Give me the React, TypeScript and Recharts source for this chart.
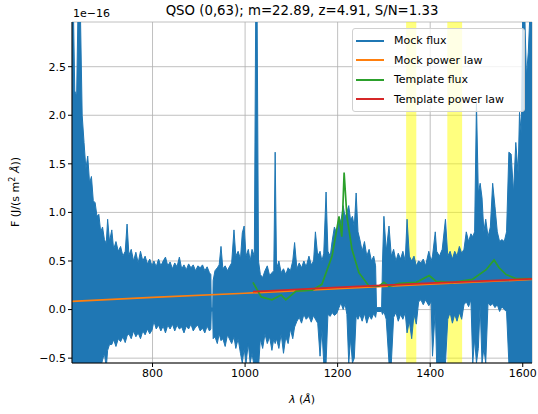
import {
  Area,
  CartesianGrid,
  ComposedChart,
  Line,
  XAxis,
  YAxis,
} from 'recharts'

// mock spectrum envelope (units of 1e-16)
const WAVE = [
  626, 629, 632, 636, 639, 644, 648, 652, 656, 660, 664, 668, 672, 676, 680, 684, 688, 692, 696, 700,
  703, 707, 712, 716, 721, 726, 731, 736, 741, 745, 749, 754, 759, 764, 769, 774, 779, 784, 789, 794,
  799, 803, 808, 813, 818, 823, 828, 833, 838, 843, 848, 853, 858, 863, 868, 873, 878, 883, 888, 893,
  898, 903, 908, 913, 918, 923, 926, 927, 930, 931, 935, 940, 944, 948, 952, 957, 962, 966, 971, 976,
  980, 985, 990, 994, 998, 1002, 1007, 1011, 1015, 1020, 1023, 1026, 1029, 1033, 1038, 1043, 1048, 1053, 1058, 1062,
  1065, 1068, 1073, 1078, 1083, 1088, 1093, 1098, 1103, 1107, 1112, 1117, 1122, 1127, 1132, 1138, 1143, 1148, 1152, 1157,
  1162, 1166, 1170, 1175, 1179, 1184, 1188, 1193, 1198, 1203, 1207, 1212, 1216, 1220, 1224, 1228, 1232, 1236, 1240, 1244,
  1248, 1253, 1258, 1263, 1268, 1273, 1278, 1282, 1284, 1295, 1297, 1300, 1305, 1311, 1316, 1321, 1326, 1331, 1336, 1341,
  1346, 1350, 1355, 1360, 1365, 1370, 1375, 1380, 1385, 1390, 1397, 1402, 1405, 1411, 1414, 1420, 1426, 1433, 1438, 1443,
  1448, 1453, 1458, 1463, 1468, 1473, 1478, 1483, 1488, 1492, 1496, 1500, 1504, 1508, 1512, 1516, 1520, 1525, 1530, 1535,
  1540, 1545, 1550, 1555, 1560, 1565, 1570, 1575, 1580, 1585, 1590, 1593, 1597, 1600, 1604, 1608, 1612, 1616, 1620,
]
const FLUX_HI = [
  3.1, 3.1, 2.25, 2.2, 3.1, 3.1, 2.0, 1.72, 1.45, 1.58, 1.3, 1.37, 1.12, 1.1, 0.96, 0.98, 0.8, 0.85, 0.72, 0.68,
  0.93, 0.7, 0.82, 0.62, 0.7, 0.6, 0.65, 0.55, 0.6, 0.88, 0.56, 0.62, 0.5, 0.59, 0.48, 0.6, 0.5, 0.55, 0.47, 0.52,
  0.45, 0.5, 0.44, 0.52, 0.45, 0.5, 0.54, 0.45, 0.49, 0.42, 0.48, 0.44, 0.54, 0.42, 0.46, 0.41, 0.47, 0.43, 0.46, 0.4,
  0.45, 0.43, 0.46, 0.4, 0.44, 0.38, 0.36, 0.02, 0.02, 0.3, 0.4, 0.43, 0.46, 0.65, 0.42, 0.45, 0.4, 0.44, 0.48, 0.82,
  0.55, 0.6, 0.52, 0.79, 0.86, 0.55, 0.62, 0.5, 0.62, 0.55, 3.1, 3.1, 0.5, 0.36, 0.33, 0.4, 0.45, 0.35, 0.38, 0.4,
  1.62, 0.42, 0.5, 0.38, 0.42, 0.36, 0.43, 0.4, 0.5, 0.69, 0.42, 0.48, 0.43, 0.5, 0.44, 0.55, 0.46, 0.5, 0.8, 0.55,
  0.6, 0.5, 0.58, 1.21, 0.6, 0.55, 0.7, 0.85, 0.78, 0.95, 0.9, 1.07, 0.95, 1.0, 1.07, 0.92, 0.96, 0.85, 1.2, 0.8,
  0.72, 0.6, 0.7, 0.55, 0.62, 0.5, 0.55, 0.45, 0.02, 0.02, 0.5, 0.96, 0.6, 0.86, 0.55, 0.62, 0.5, 0.58, 0.52, 0.6,
  0.5, 0.93, 0.55, 0.5, 0.55, 0.45, 0.5, 0.48, 0.52, 0.45, 0.6, 0.5, 0.55, 0.8, 0.6, 0.55, 0.62, 0.93, 0.55, 0.6,
  0.52, 0.6, 0.55, 0.65, 0.58, 0.62, 0.8, 0.7, 0.78, 0.75, 0.8, 2.13, 1.2, 1.3, 1.15, 0.8, 0.93, 0.75, 0.85, 1.3,
  1.06, 0.8, 0.7, 0.72, 0.7, 0.8, 1.62, 1.6, 1.2, 1.72, 1.4, 2.03, 1.8, 3.1, 3.1, 2.4, 2.65, 3.1, 3.1,
]
const FLUX_LO = [
  -0.6, -0.6, -0.6, -0.6, -0.6, -0.6, -0.6, -0.6, -0.6, -0.6, -0.6, -0.6, -0.6, -0.6, -0.6, -0.6, -0.6, -0.52, -0.45, -0.6,
  -0.42, -0.36, -0.36, -0.31, -0.38, -0.3, -0.33, -0.28, -0.34, -0.27, -0.25, -0.3, -0.22, -0.28, -0.24, -0.3, -0.22, -0.26, -0.2, -0.25,
  -0.21, -0.12, -0.2, -0.16, -0.22, -0.17, -0.24, -0.16, -0.2, -0.15, -0.22, -0.16, -0.2, -0.18, -0.24, -0.17, -0.2, -0.15, -0.22, -0.18,
  -0.16, -0.22, -0.19, -0.24, -0.17, -0.22, -0.2, -0.02, -0.02, -0.3, -0.28, -0.35, -0.25, -0.32, -0.3, -0.38, -0.26, -0.3, -0.35, -0.28,
  -0.4, -0.3, -0.45, -0.55, -0.4, -0.55, -0.35, -0.55, -0.45, -0.6, -0.6, -0.6, -0.6, -0.3, -0.4, -0.25, -0.35, -0.28, -0.42, -0.3,
  -0.35, -0.3, -0.4, -0.25, -0.45, -0.28, -0.35, -0.2, -0.3, -0.18, -0.12, -0.08, -0.14, -0.05, -0.1, -0.07, -0.13, -0.06, -0.1, -0.14,
  -0.48, -0.2, -0.55, -0.55, -0.05, -0.07, -0.03, -0.06, -0.04, 0.02, 0.07, 0.0, 0.06, -0.05, -0.55, -0.3, -0.55, -0.5, -0.06, -0.1,
  -0.05, -0.12, -0.04, -0.14, -0.06, -0.1, -0.04, -0.08, -0.02, -0.02, -0.05, -0.02, -0.1, -0.55, -0.55, -0.08, -0.03, -0.12, -0.05, -0.1,
  -0.03, -0.24, -0.12, -0.3, -0.05, -0.15, 0.08, 0.1, 0.05, 0.1, 0.04, 0.08, -0.48, 0.0, -0.55, -0.55, -0.55, -0.55, -0.1, -0.03,
  -0.14, -0.05, -0.12, -0.03, -0.1, 0.05, 0.08, 0.03, 0.1, -0.55, -0.3, -0.55, -0.4, 0.05, -0.55, -0.4, -0.55, 0.07, 0.04, 0.06,
  0.02, 0.05, -0.02, 0.03, 0.0, -0.02, -0.55, -0.6, -0.6, -0.6, -0.6, -0.6, -0.6, -0.6, -0.6, -0.6, -0.6, -0.6, -0.6,
]

const MOCK_POWER_WAVE = [626, 800, 1000, 1200, 1400, 1620]
const MOCK_POWER = [0.085, 0.125, 0.168, 0.215, 0.262, 0.31]

const TPL_POWER_WAVE = [1017, 1200, 1400, 1620]
const TPL_POWER = [0.185, 0.228, 0.272, 0.316]

const TPL_WAVE = [
  1017, 1035, 1058, 1078, 1088, 1110, 1145, 1166, 1188, 1203, 1209, 1214, 1220, 1231, 1246, 1268,
  1289, 1300, 1311, 1333, 1370, 1398, 1413, 1448, 1491, 1521, 1538, 1549, 1564, 1585, 1620,
]
const TPL_FLUX = [
  0.28, 0.13, 0.1, 0.15, 0.1, 0.19, 0.2, 0.26, 0.55, 0.96, 0.75, 1.41, 0.96, 0.62, 0.38, 0.24,
  0.24, 0.28, 0.24, 0.27, 0.28, 0.35, 0.29, 0.28, 0.31, 0.41, 0.51, 0.43, 0.36, 0.32, 0.32,
]

// highlighted windows (Å)
const BAND_STARTS = [1348, 1437]
const BAND_ENDS = [1370, 1469]

const X_TICKS = [800, 1000, 1200, 1400, 1600]
const Y_TICKS = [-0.5, 0, 0.5, 1, 1.5, 2, 2.5]
const X_DOMAIN = [626, 1620]
const Y_DOMAIN = [-0.55, 2.96]

const BLUE = '#1f77b4'
const ORANGE = '#ff7f0e'
const GREEN = '#2ca02c'
const RED = '#d62728'
const FONT = '"DejaVu Sans", sans-serif'
const W = 538
const H = 414

const fluxRows = WAVE.map((w, i) => ({ wave: w, band: [FLUX_LO[i], FLUX_HI[i]] }))
const mockPowerRows = MOCK_POWER_WAVE.map((w, i) => ({ wave: w, value: MOCK_POWER[i] }))
const tplPowerRows = TPL_POWER_WAVE.map((w, i) => ({ wave: w, value: TPL_POWER[i] }))
const tplRows = TPL_WAVE.map((w, i) => ({ wave: w, value: TPL_FLUX[i] }))
const bandRows = BAND_STARTS.map((a, i) => [
  { wave: a, span: [Y_DOMAIN[0], Y_DOMAIN[1]] },
  { wave: BAND_ENDS[i], span: [Y_DOMAIN[0], Y_DOMAIN[1]] },
])

const LEGEND_ITEMS = [
  { label: 'Mock flux', color: BLUE },
  { label: 'Mock power law', color: ORANGE },
  { label: 'Template flux', color: GREEN },
  { label: 'Template power law', color: RED },
]

const tick = { fontSize: 11, fill: '#000', fontFamily: FONT }

const fmtY = (v: number) => v.toFixed(1).replace('-', '\u2212')

function SpecLegend() {
  return (
    <div
      style={{
        position: 'absolute',
        left: 352,
        top: 28,
        width: 173,
        background: 'rgba(255,255,255,0.8)',
        border: '1px solid #d0d0d0',
        borderRadius: 3,
        padding: '2px 0 2px 3px',
        fontFamily: FONT,
        fontSize: 11,
        color: '#000',
        boxSizing: 'border-box',
      }}
    >
      {LEGEND_ITEMS.map((it) => (
        <div key={it.label} style={{ display: 'flex', alignItems: 'center', height: 19.5 }}>
          <span style={{ display: 'inline-block', width: 28, height: 2, background: it.color, marginRight: 10 }} />
          {it.label}
        </div>
      ))}
    </div>
  )
}

export default function App() {
  return (
    <div style={{ position: 'relative', width: W, height: H, background: '#fff' }}>
      <style>{'body{margin:0}'}</style>
      <ComposedChart width={W} height={H} margin={{ top: 22, right: 6, bottom: 0, left: 0 }}>
        <CartesianGrid stroke="#b0b0b0" strokeWidth={0.8} />
        <XAxis
          type="number"
          dataKey="wave"
          domain={X_DOMAIN}
          ticks={X_TICKS}
          allowDataOverflow
          height={51}
          tick={tick}
          tickSize={4}
          stroke="#000"
        />
        <XAxis xAxisId="top" type="number" dataKey="wave" domain={X_DOMAIN} orientation="top" height={0} tick={false} tickLine={false} stroke="#000" />
        <YAxis
          type="number"
          domain={Y_DOMAIN}
          ticks={Y_TICKS}
          allowDataOverflow
          width={72}
          tick={tick}
          tickSize={4}
          tickFormatter={fmtY}
          stroke="#000"
        />
        <YAxis yAxisId="right" orientation="right" domain={Y_DOMAIN} width={0} tick={false} tickLine={false} stroke="#000" />
        {bandRows.map((rows, i) => (
          <Area
            key={`band-${i}`}
            data={rows}
            dataKey="span"
            type="linear"
            stroke="none"
            fill="#ffff00"
            fillOpacity={0.5}
            isAnimationActive={false}
          />
        ))}
        <Area
          data={fluxRows}
          dataKey="band"
          type="linear"
          stroke={BLUE}
          strokeWidth={1}
          fill={BLUE}
          fillOpacity={1}
          isAnimationActive={false}
        />
        <Line data={mockPowerRows} dataKey="value" type="linear" stroke={ORANGE} strokeWidth={1.7} dot={false} isAnimationActive={false} />
        <Line data={tplRows} dataKey="value" type="linear" stroke={GREEN} strokeWidth={1.7} dot={false} isAnimationActive={false} />
        <Line data={tplPowerRows} dataKey="value" type="linear" stroke={RED} strokeWidth={1.7} dot={false} isAnimationActive={false} />
      </ComposedChart>
      <SpecLegend />
      <svg width={W} height={H} style={{ position: 'absolute', left: 0, top: 0, pointerEvents: 'none' }}>
        <text x={302} y={15} textAnchor="middle" fontFamily={FONT} fontSize={13.3}>
          QSO (0,63); m=22.89, z=4.91, S/N=1.33
        </text>
        <text x={73} y={17} fontFamily={FONT} fontSize={11}>
          1e−16
        </text>
        <text x={302} y={403} textAnchor="middle" fontFamily={FONT} fontSize={11}>
          <tspan fontStyle="italic">λ</tspan> (<tspan fontStyle="italic">Å</tspan>)
        </text>
        <text transform="translate(19,192) rotate(-90)" textAnchor="middle" fontFamily={FONT} fontSize={11}>
          F (J/(s m<tspan dy={-4} fontSize={8}>2</tspan>
          <tspan dy={4}> </tspan>
          <tspan fontStyle="italic">Å</tspan>))
        </text>
      </svg>
    </div>
  )
}
